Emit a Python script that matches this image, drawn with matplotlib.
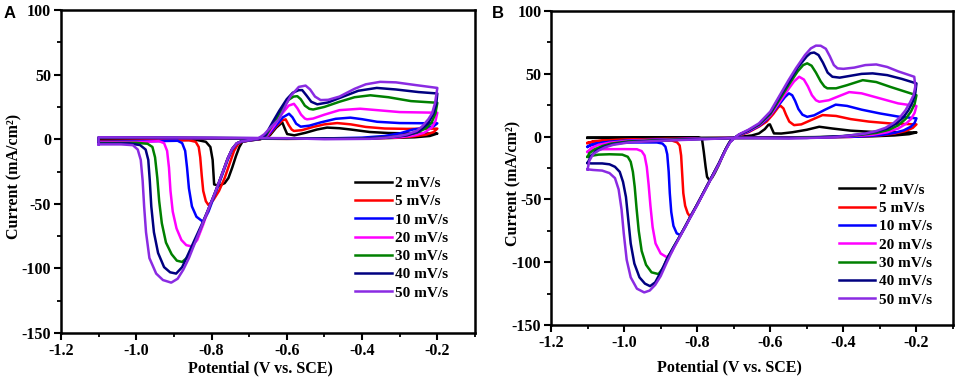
import matplotlib
matplotlib.use('Agg')
import matplotlib.pyplot as plt
from matplotlib.ticker import MultipleLocator, FormatStrFormatter

# scan rates and colours
rates = ['2 mV/s', '5 mV/s', '10 mV/s', '20 mV/s', '30 mV/s', '40 mV/s', '50 mV/s']
colors = ['#000000', '#ff0000', '#0000ff', '#ff00ff', '#008000', '#000080', '#8a2be2']

# ---- panel A: (potential V, current mA/cm2), one closed CV loop per rate ----
A_2 = [(-1.10, -1.0), (-0.95, -0.8), (-0.84, -0.5), (-0.815, -2), (-0.803, -6), (-0.797, -16),
       (-0.793, -35), (-0.78, -36), (-0.765, -34), (-0.755, -30), (-0.745, -22), (-0.735, -13),
       (-0.726, -6), (-0.718, -2), (-0.70, -1), (-0.67, 0), (-0.645, 3), (-0.628, 9), (-0.612, 13),
       (-0.605, 8), (-0.599, 4), (-0.58, 3), (-0.55, 5), (-0.52, 7.5), (-0.493, 9), (-0.46, 8.5),
       (-0.43, 7.5), (-0.38, 5.6), (-0.33, 4.8), (-0.26, 4.4), (-0.2, 4.4),
       (-0.22, 2.5), (-0.26, 1.5), (-0.32, 1), (-0.45, 0.5), (-0.6, 0.3), (-0.8, 0.5), (-1.0, 0.8),
       (-1.1, 0.8), (-1.1, -1.0)]
A_5 = [(-1.10, -1.5), (-0.95, -1.2), (-0.86, -0.8), (-0.842, -2), (-0.834, -6), (-0.830, -14),
       (-0.826, -28), (-0.822, -40), (-0.815, -48), (-0.808, -51), (-0.795, -47), (-0.78, -40),
       (-0.765, -30), (-0.752, -19), (-0.74, -9), (-0.73, -4), (-0.72, -2), (-0.70, -1), (-0.67, 0.2),
       (-0.648, 3), (-0.628, 10), (-0.612, 14.5), (-0.603, 15.4), (-0.595, 11), (-0.587, 7.5),
       (-0.581, 6.4), (-0.56, 7), (-0.53, 9.5), (-0.50, 11.5), (-0.466, 12.5), (-0.43, 11.5),
       (-0.39, 9.5), (-0.34, 8.3), (-0.28, 8), (-0.2, 8.2),
       (-0.21, 5.5), (-0.23, 3.5), (-0.27, 2), (-0.33, 1), (-0.45, 0.5), (-0.6, 0.3), (-0.8, 0.6),
       (-1.0, 0.9), (-1.1, 1.0), (-1.1, -1.5)]
A_10 = [(-1.10, -2), (-0.95, -1.5), (-0.89, -1.2), (-0.878, -3), (-0.870, -9), (-0.865, -22),
        (-0.860, -38), (-0.852, -52), (-0.840, -60), (-0.822, -64), (-0.808, -56), (-0.79, -42),
        (-0.772, -28), (-0.757, -16), (-0.745, -8), (-0.733, -3.5), (-0.72, -1.8), (-0.70, -1),
        (-0.67, 0.3), (-0.65, 3), (-0.63, 10), (-0.61, 17), (-0.594, 19.7), (-0.585, 17),
        (-0.575, 12), (-0.563, 9.7), (-0.54, 10.5), (-0.51, 13), (-0.47, 15.8), (-0.431, 16.7),
        (-0.40, 15.5), (-0.36, 13.5), (-0.30, 12.5), (-0.2, 12.3),
        (-0.21, 10), (-0.24, 8.5), (-0.265, 7.5), (-0.30, 4.5), (-0.34, 2.5), (-0.40, 1.2),
        (-0.5, 0.6), (-0.6, 0.4), (-0.8, 0.7), (-1.0, 1.0), (-1.1, 1.1), (-1.1, -2)]
A_20 = [(-1.10, -2.5), (-0.98, -2), (-0.94, -1.5), (-0.926, -3), (-0.918, -9), (-0.913, -22),
        (-0.909, -40), (-0.903, -56), (-0.893, -69), (-0.880, -78), (-0.867, -82), (-0.852, -83),
        (-0.838, -78), (-0.822, -66), (-0.808, -54), (-0.79, -41), (-0.772, -27), (-0.757, -15),
        (-0.745, -7.5), (-0.733, -3.2), (-0.72, -1.6), (-0.70, -0.8), (-0.672, 0.5), (-0.652, 3),
        (-0.632, 11), (-0.612, 20), (-0.595, 26), (-0.581, 27.4), (-0.572, 24), (-0.562, 19),
        (-0.552, 16), (-0.546, 15.4), (-0.53, 16), (-0.50, 19), (-0.46, 22.5), (-0.405, 23.6),
        (-0.36, 22.5), (-0.30, 21), (-0.2, 20.5),
        (-0.205, 14), (-0.215, 9), (-0.235, 5), (-0.26, 3), (-0.30, 1.5), (-0.38, 0.6), (-0.5, 0.4),
        (-0.6, 0.4), (-0.8, 0.8), (-1.0, 1.1), (-1.1, 1.2), (-1.1, -2.5)]
A_30 = [(-1.10, -3), (-1.00, -2.8), (-0.97, -3.5), (-0.957, -6), (-0.950, -14), (-0.944, -30),
        (-0.939, -48), (-0.932, -65), (-0.921, -80), (-0.906, -89), (-0.892, -94), (-0.878, -95),
        (-0.862, -91), (-0.845, -80), (-0.826, -67), (-0.808, -54), (-0.79, -41), (-0.772, -27),
        (-0.757, -15), (-0.745, -7.5), (-0.733, -3.2), (-0.72, -1.6), (-0.70, -0.8), (-0.672, 0.6),
        (-0.655, 3), (-0.636, 12), (-0.615, 22), (-0.595, 30.5), (-0.582, 33), (-0.572, 33.3),
        (-0.563, 31), (-0.552, 26), (-0.540, 23.5), (-0.530, 23), (-0.50, 25), (-0.46, 29),
        (-0.42, 32.5), (-0.378, 34), (-0.33, 32.5), (-0.27, 29.5), (-0.2, 28.2),
        (-0.205, 20), (-0.215, 13), (-0.23, 8.5), (-0.255, 5), (-0.29, 2.8), (-0.34, 1.2),
        (-0.42, 0.5), (-0.6, 0.5), (-0.8, 0.9), (-1.0, 1.2), (-1.1, 1.3), (-1.1, -3)]
A_40 = [(-1.10, -3.5), (-1.02, -3.3), (-0.99, -4.5), (-0.975, -8), (-0.968, -16), (-0.964, -32),
        (-0.960, -52), (-0.953, -72), (-0.942, -88), (-0.926, -99), (-0.910, -103), (-0.894, -104),
        (-0.878, -99), (-0.862, -89), (-0.845, -78), (-0.826, -66), (-0.808, -54), (-0.79, -41),
        (-0.772, -27), (-0.757, -15), (-0.745, -7.5), (-0.733, -3.2), (-0.72, -1.6), (-0.70, -0.8),
        (-0.672, 0.7), (-0.657, 3), (-0.638, 13), (-0.62, 22), (-0.60, 31), (-0.584, 36),
        (-0.568, 38), (-0.559, 38), (-0.548, 34), (-0.535, 29), (-0.519, 27), (-0.49, 28.5),
        (-0.45, 33), (-0.41, 37.5), (-0.361, 39.7), (-0.31, 38.5), (-0.25, 36.5), (-0.2, 35.4),
        (-0.203, 27), (-0.21, 20), (-0.225, 12), (-0.25, 6), (-0.28, 3), (-0.33, 1.3), (-0.40, 0.5),
        (-0.6, 0.6), (-0.8, 1.0), (-1.0, 1.3), (-1.1, 1.4), (-1.1, -3.5)]
A_50 = [(-1.10, -4), (-1.04, -4), (-1.009, -4.6), (-0.996, -8), (-0.988, -16), (-0.983, -32),
        (-0.979, -52), (-0.974, -72), (-0.965, -92), (-0.947, -104), (-0.929, -109), (-0.907, -111),
        (-0.89, -108), (-0.875, -101), (-0.86, -92), (-0.845, -81), (-0.826, -67), (-0.808, -54),
        (-0.79, -41), (-0.772, -27), (-0.757, -15), (-0.745, -7.5), (-0.733, -3.2), (-0.72, -1.6),
        (-0.70, -0.8), (-0.675, 0.8), (-0.66, 3.8), (-0.64, 10), (-0.621, 15.4), (-0.60, 28),
        (-0.59, 33.3), (-0.568, 40.5), (-0.55, 41.5), (-0.538, 38.5), (-0.525, 33), (-0.51, 30.3),
        (-0.49, 30.5), (-0.46, 33), (-0.42, 39), (-0.39, 42.5), (-0.352, 44.4), (-0.31, 44),
        (-0.26, 42), (-0.2, 39.7),
        (-0.206, 28), (-0.214, 20), (-0.224, 15.4), (-0.24, 10), (-0.255, 6.4), (-0.28, 3.8),
        (-0.299, 2.6), (-0.34, 1), (-0.378, 0.3), (-0.5, 0), (-0.6, 0.8), (-0.8, 1.2), (-1.0, 1.4),
        (-1.1, 1.5), (-1.1, -4)]

# ---- panel B ----
B_2 = [(-1.10, -0.9), (-1.0, -0.8), (-0.90, -0.6), (-0.80, -0.5), (-0.787, -1.5), (-0.782, -12),
       (-0.777, -24), (-0.773, -32), (-0.767, -34.5), (-0.760, -33), (-0.752, -29), (-0.741, -22.6),
       (-0.73, -15), (-0.72, -9), (-0.714, -5.5), (-0.705, -2), (-0.695, -0.5), (-0.67, 0.3),
       (-0.65, 1), (-0.631, 2.6), (-0.615, 6), (-0.605, 9.5), (-0.601, 9.8), (-0.596, 6.5),
       (-0.59, 2.6), (-0.57, 2.5), (-0.54, 3.5), (-0.50, 5.5), (-0.466, 7.9), (-0.43, 6.5),
       (-0.38, 4.8), (-0.32, 3.8), (-0.25, 3.4), (-0.2, 3.4),
       (-0.22, 2), (-0.26, 1), (-0.32, 0.3), (-0.45, -0.3), (-0.695, -0.8), (-0.90, -1), (-1.10, -0.9)]
B_5 = [(-1.10, -5), (-1.08, -3.5), (-1.04, -2.8), (-0.95, -2.7), (-0.87, -3), (-0.855, -4.5),
       (-0.848, -7), (-0.844, -15), (-0.841, -30), (-0.838, -45), (-0.833, -55), (-0.826, -61),
       (-0.819, -63.8), (-0.80, -54), (-0.78, -43), (-0.76, -32), (-0.74, -21), (-0.722, -10),
       (-0.71, -4), (-0.698, -1), (-0.686, 1), (-0.66, 3.5), (-0.631, 8), (-0.61, 12), (-0.592, 18),
       (-0.578, 23.5), (-0.572, 24.6), (-0.564, 22.5), (-0.557, 17.5), (-0.548, 12), (-0.535, 9.2),
       (-0.515, 9.8), (-0.49, 13), (-0.457, 17.2), (-0.42, 16.5), (-0.38, 14), (-0.33, 12),
       (-0.27, 10.5), (-0.2, 9.8),
       (-0.21, 7), (-0.23, 4.5), (-0.26, 2.5), (-0.30, 1), (-0.38, -0.2), (-0.5, -0.8),
       (-0.695, -1), (-0.80, -1.3), (-0.90, -1.8), (-1.0, -2.3), (-1.05, -3), (-1.085, -4), (-1.10, -5)]
B_10 = [(-1.10, -8), (-1.085, -6), (-1.06, -5), (-1.0, -4.6), (-0.91, -4.6), (-0.895, -5.5),
        (-0.887, -8), (-0.882, -14), (-0.878, -28), (-0.875, -45), (-0.871, -60), (-0.865, -71),
        (-0.856, -77), (-0.846, -78.3), (-0.832, -71.5), (-0.819, -64), (-0.80, -54), (-0.78, -43),
        (-0.76, -32), (-0.74, -21), (-0.722, -10), (-0.71, -4), (-0.698, -1), (-0.686, 1.2),
        (-0.66, 4), (-0.631, 8.5), (-0.61, 13.5), (-0.58, 24), (-0.56, 31.5), (-0.549, 34.5),
        (-0.54, 33), (-0.532, 28.5), (-0.523, 22), (-0.512, 17.5), (-0.499, 15.8), (-0.48, 17),
        (-0.45, 21.5), (-0.421, 25.5), (-0.39, 24.5), (-0.35, 21.5), (-0.30, 18.5), (-0.25, 16),
        (-0.2, 14.6),
        (-0.205, 11), (-0.215, 8), (-0.235, 5), (-0.26, 3), (-0.30, 1.2), (-0.36, 0), (-0.5, -0.8),
        (-0.695, -1), (-0.80, -1.5), (-0.90, -2.2), (-0.99, -3), (-1.04, -4), (-1.075, -5.5),
        (-1.095, -7), (-1.10, -8)]
B_20 = [(-1.10, -12), (-1.085, -10.5), (-1.06, -10), (-1.0, -9.9), (-0.965, -10), (-0.952, -11.5),
        (-0.944, -15), (-0.938, -24), (-0.933, -38), (-0.928, -55), (-0.922, -72), (-0.914, -85),
        (-0.90, -93), (-0.883, -96), (-0.87, -92), (-0.858, -85), (-0.846, -78.5), (-0.832, -71),
        (-0.819, -64), (-0.80, -54), (-0.78, -43), (-0.76, -32), (-0.74, -21), (-0.722, -10),
        (-0.71, -4), (-0.698, -1), (-0.686, 1.3), (-0.66, 4.5), (-0.631, 9), (-0.60, 17),
        (-0.576, 27), (-0.55, 38), (-0.535, 44), (-0.521, 47.7), (-0.508, 45.5), (-0.497, 40),
        (-0.486, 33), (-0.475, 29), (-0.466, 27.8), (-0.44, 29), (-0.41, 32.5), (-0.384, 35.5),
        (-0.35, 34.5), (-0.30, 30.5), (-0.25, 26.5), (-0.2, 24.4),
        (-0.205, 19), (-0.215, 14), (-0.23, 10), (-0.25, 6.5), (-0.28, 3.5), (-0.32, 1.5),
        (-0.38, 0.3), (-0.5, -0.8), (-0.695, -1), (-0.80, -1.6), (-0.90, -2.4), (-0.99, -3.3),
        (-1.04, -4.8), (-1.07, -6.5), (-1.09, -9), (-1.10, -12)]
B_30 = [(-1.10, -16), (-1.085, -15), (-1.07, -14.3), (-1.04, -14), (-1.005, -14.3), (-0.99, -16),
        (-0.982, -20), (-0.976, -28), (-0.971, -40), (-0.966, -57), (-0.960, -75), (-0.952, -91),
        (-0.940, -102), (-0.925, -108), (-0.906, -109.4), (-0.892, -104), (-0.883, -97.5),
        (-0.865, -88), (-0.846, -78.5), (-0.832, -71), (-0.819, -64), (-0.80, -54), (-0.78, -43),
        (-0.76, -32), (-0.74, -21), (-0.722, -10), (-0.71, -4), (-0.698, -1), (-0.686, 1.5),
        (-0.66, 5), (-0.631, 9.5), (-0.60, 18), (-0.576, 29), (-0.55, 41), (-0.525, 52),
        (-0.51, 57), (-0.499, 58.4), (-0.487, 56.5), (-0.475, 51), (-0.462, 44), (-0.452, 40),
        (-0.444, 38.5), (-0.42, 38.5), (-0.39, 41), (-0.347, 45), (-0.31, 43.5), (-0.27, 39.5),
        (-0.2, 33),
        (-0.205, 26), (-0.215, 20), (-0.23, 14), (-0.25, 9), (-0.275, 5.5), (-0.31, 3),
        (-0.36, 1.2), (-0.42, 0), (-0.55, -1), (-0.695, -1), (-0.80, -1.8), (-0.90, -2.7),
        (-0.99, -3.8), (-1.035, -5.5), (-1.06, -7.5), (-1.08, -10), (-1.095, -13), (-1.10, -16)]
B_40 = [(-1.10, -21), (-1.09, -21.3), (-1.06, -21.3), (-1.04, -22), (-1.025, -24), (-1.012, -28),
        (-1.003, -36), (-0.995, -48), (-0.989, -65), (-0.982, -85), (-0.972, -101), (-0.958, -112),
        (-0.943, -117), (-0.929, -119), (-0.915, -116), (-0.90, -108), (-0.883, -97.5),
        (-0.865, -88), (-0.846, -78.5), (-0.832, -71), (-0.819, -64), (-0.80, -54), (-0.78, -43),
        (-0.76, -32), (-0.74, -21), (-0.722, -10), (-0.71, -4), (-0.698, -1), (-0.686, 1.5),
        (-0.66, 5), (-0.631, 10), (-0.60, 19), (-0.576, 31), (-0.55, 43), (-0.525, 55),
        (-0.50, 64), (-0.49, 66.5), (-0.48, 67), (-0.468, 65), (-0.456, 59), (-0.443, 51),
        (-0.43, 47.7), (-0.41, 47), (-0.38, 48.5), (-0.35, 50), (-0.32, 50.4), (-0.28, 49),
        (-0.24, 46), (-0.2, 42.4),
        (-0.203, 35), (-0.21, 28), (-0.222, 21), (-0.237, 15), (-0.255, 10.5), (-0.28, 6.5),
        (-0.31, 4), (-0.35, 2), (-0.40, 0.5), (-0.50, -1), (-0.695, -1), (-0.80, -2), (-0.90, -3),
        (-0.99, -4.3), (-1.03, -6), (-1.055, -8), (-1.075, -11), (-1.09, -15), (-1.10, -21)]
B_50 = [(-1.10, -26), (-1.085, -26.5), (-1.06, -27), (-1.04, -29), (-1.025, -33), (-1.015, -42),
        (-1.007, -58), (-1.001, -77), (-0.993, -98), (-0.982, -112), (-0.965, -121), (-0.945, -124),
        (-0.93, -122.5), (-0.915, -118), (-0.90, -111), (-0.883, -100), (-0.865, -89),
        (-0.846, -79), (-0.832, -71.5), (-0.819, -64.5), (-0.80, -54.5), (-0.78, -43.5),
        (-0.76, -32.5), (-0.74, -21.5), (-0.722, -10.5), (-0.71, -4.5), (-0.698, -1.2),
        (-0.686, 1.8), (-0.66, 5.5), (-0.631, 10.6), (-0.60, 20), (-0.576, 32), (-0.55, 45),
        (-0.53, 54.4), (-0.505, 65), (-0.489, 70.3), (-0.475, 72.5), (-0.462, 72.4), (-0.448, 70),
        (-0.437, 64), (-0.426, 57), (-0.416, 54.4), (-0.40, 54), (-0.37, 55), (-0.34, 57),
        (-0.31, 57.5), (-0.28, 55.5), (-0.25, 52), (-0.206, 47.7),
        (-0.203, 40), (-0.208, 33), (-0.218, 27), (-0.23, 21), (-0.245, 15.5), (-0.262, 11),
        (-0.285, 7), (-0.31, 4.5), (-0.34, 2.5), (-0.38, 1), (-0.43, -0.5), (-0.55, -1.5),
        (-0.695, -1), (-0.80, -2.2), (-0.90, -3.2), (-0.988, -4.6), (-1.03, -6.5), (-1.052, -8.5),
        (-1.07, -11), (-1.085, -14), (-1.095, -19), (-1.10, -26)]

curves_A = [A_2, A_5, A_10, A_20, A_30, A_40, A_50]
curves_B = [B_2, B_5, B_10, B_20, B_30, B_40, B_50]

plt.rcParams['font.family'] = 'Liberation Serif'
plt.rcParams['font.weight'] = 'bold'
plt.rcParams['axes.unicode_minus'] = False

fig = plt.figure(figsize=(9.57, 3.78), dpi=100)
axA = fig.add_axes([0.0637, 0.119, 0.4326, 0.8545])
axB = fig.add_axes([0.5758, 0.140, 0.4200, 0.8307])


def draw(ax, curves, leg_anchor, xlab_pos, ylab_pos):
    for pts, c, lab in zip(curves, colors, rates):
        x = [p[0] for p in pts]
        y = [p[1] for p in pts]
        ax.plot(x, y, color=c, lw=1.8, label=lab)
    ax.set_xlim(-1.2, -0.1)
    ax.set_ylim(-150, 100)
    ax.xaxis.set_minor_locator(MultipleLocator(0.1))
    ax.set_xticks([-1.2, -1.0, -0.8, -0.6, -0.4, -0.2])
    ax.xaxis.set_major_formatter(FormatStrFormatter('%.1f'))
    ax.yaxis.set_major_locator(MultipleLocator(50))
    ax.yaxis.set_minor_locator(MultipleLocator(25))
    for s in ax.spines.values():
        s.set_linewidth(1.8)
    ax.tick_params(which='major', direction='out', length=5, width=1.5, labelsize=11.5, pad=2)
    ax.tick_params(which='minor', direction='out', length=3, width=1.3)
    ax.set_xlabel('Potential (V vs. SCE)', fontsize=11.5, fontweight='bold')
    ax.set_ylabel('Current (mA/cm²)', fontsize=11.5, fontweight='bold')
    ax.xaxis.set_label_coords(*xlab_pos)
    ax.yaxis.set_label_coords(*ylab_pos)
    ax.legend(loc='upper left', bbox_to_anchor=leg_anchor, frameon=False, fontsize=11,
              handlelength=2.4, handletextpad=0.2, labelspacing=0.3, borderpad=0,
              borderaxespad=0)


draw(axA, curves_A, (0.71, 0.485), (0.483, -0.085), (-0.094, 0.485))
draw(axB, curves_B, (0.716, 0.452), (0.445, -0.108), (-0.073, 0.45))

fig.text(0.004, 0.985, 'A', family='Liberation Sans', fontsize=12, fontweight='bold', va='top')
fig.text(0.514, 0.985, 'B', family='Liberation Sans', fontsize=12, fontweight='bold', va='top')

fig.savefig('out.png', dpi=100)
